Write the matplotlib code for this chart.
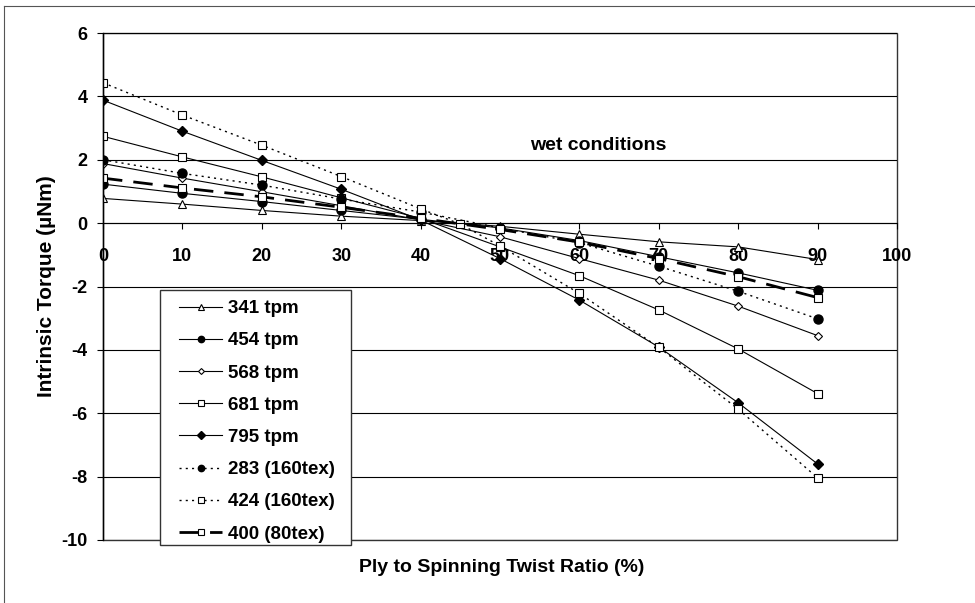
import numpy as np
import matplotlib.pyplot as plt
from matplotlib.lines import Line2D
from matplotlib.patches import Rectangle

plt.rcParams['font.family'] = ['Liberation Sans', 'DejaVu Sans']
plt.rcParams['font.weight'] = 'bold'
plt.rcParams['axes.unicode_minus'] = False

# ply to spinning twist ratio (%)
ratio = [0, 10, 20, 30, 40, 50, 60, 70, 80, 90]
ratio_424 = [0, 10, 20, 30, 40, 45, 50, 60, 70, 80, 90]

# intrinsic torque (uNm), wet conditions
t341 = [0.78, 0.6, 0.40, 0.22, 0.08, -0.1, -0.35, -0.59, -0.75, -1.15]
t454 = [1.23, 0.94, 0.68, 0.40, 0.12, -0.15, -0.55, -1.06, -1.57, -2.12]
t568 = [1.88, 1.42, 0.99, 0.55, 0.10, -0.43, -1.12, -1.80, -2.62, -3.55]
t681 = [2.74, 2.09, 1.46, 0.80, 0.15, -0.75, -1.66, -2.74, -3.97, -5.38]
t795 = [3.88, 2.90, 1.98, 1.07, 0.10, -1.12, -2.43, -3.91, -5.67, -7.60]
t283 = [2.00, 1.57, 1.20, 0.76, 0.35, -0.15, -0.62, -1.36, -2.15, -3.02]
t424 = [4.43, 3.41, 2.46, 1.47, 0.45, -0.03, -0.72, -2.22, -3.92, -5.87, -8.04]
t400 = [1.42, 1.11, 0.83, 0.50, 0.15, -0.20, -0.60, -1.12, -1.69, -2.35]

fig = plt.figure(figsize=(9.75, 6.03), dpi=100)
ax = fig.add_axes([103 / 975, 1 - 540 / 603, 794 / 975, 507 / 603])

thin = 0.8
sq = 6.0
ax.plot(ratio, t341, '-', color='black', lw=thin, marker='^', ms=6,
        mfc='white', mec='black', mew=0.8, label='341 tpm')
ax.plot(ratio, t454, '-', color='black', lw=thin, marker='o', ms=6.5,
        mfc='black', mec='black', label='454 tpm')
ax.plot(ratio, t568, '-', color='black', lw=thin, marker='D', ms=4.3,
        mfc='white', mec='black', mew=0.8, label='568 tpm')
ax.plot(ratio, t681, '-', color='black', lw=thin, marker='s', ms=sq,
        mfc='white', mec='black', mew=0.8, label='681 tpm')
ax.plot(ratio, t795, '-', color='black', lw=thin, marker='D', ms=5.2,
        mfc='black', mec='black', label='795 tpm')
ax.plot(ratio, t283, linestyle=(0, (1.5, 3)), color='black', lw=1.0, marker='o', ms=6.5,
        mfc='black', mec='black', label='283 (160tex)')
ax.plot(ratio_424, t424, linestyle=(0, (1.5, 3)), color='black', lw=1.0, marker='s', ms=sq,
        mfc='white', mec='black', mew=0.8, label='424 (160tex)')
ax.plot(ratio, t400, linestyle=(0, (7, 4)), color='black', lw=2.0, marker='s', ms=sq,
        mfc='white', mec='black', mew=0.8, label='400 (80tex)')

ax.set_xlim(0, 100)
ax.set_ylim(-10, 6)
ax.set_xticks(np.arange(0, 101, 10))
ax.set_yticks(np.arange(-10, 7, 2))
ax.yaxis.grid(True, color='black', lw=0.8)
ax.set_axisbelow(True)

for s in ['top', 'right']:
    ax.spines[s].set_visible(False)
ax.spines['bottom'].set_position(('data', 0))
ax.spines['left'].set_linewidth(1.0)
ax.add_patch(Rectangle((0, 0), 1, 1, transform=ax.transAxes, fill=False,
                       ec='#333333', lw=1.0, clip_on=False, zorder=0.5))

ax.tick_params(axis='both', labelsize=13, direction='out', length=4, width=0.8)
ax.tick_params(axis='x', pad=14)
ax.tick_params(axis='y', pad=7)
for lab in ax.get_xticklabels() + ax.get_yticklabels():
    lab.set_fontweight('bold')

ax.text(62.4, 2.45, 'wet conditions', ha='center', va='center', fontsize=14,
        fontweight='bold')

fig.text(47 / 975, 1 - 286 / 603, 'Intrinsic Torque (µNm)', rotation=90,
         ha='center', va='center', fontsize=15, fontweight='bold')
fig.text(502 / 975, 1 - 567 / 603, 'Ply to Spinning Twist Ratio (%)',
         ha='center', va='center', fontsize=14, fontweight='bold')

# legend box drawn separately so its size can match the reference
fig.add_artist(Rectangle((160 / 975, 1 - 545 / 603), 191 / 975, 255 / 603,
                         transform=fig.transFigure, fc='white', ec='#333333',
                         lw=1.0, zorder=4))
leg = fig.legend(loc='upper left', bbox_to_anchor=(179 / 975, 1 - 300 / 603),
                 fontsize=13.5, frameon=False, handlelength=2.3, handletextpad=0.3,
                 labelspacing=0.805, borderpad=0, markerscale=0.7,
                 borderaxespad=0)
leg.set_zorder(5)
for t in leg.get_texts():
    t.set_fontweight('bold')

# outer chart border (left and top edges visible)
fig.add_artist(Line2D([4 / 975, 4 / 975], [0, 1 - 6 / 603], color='#555555', lw=0.8))
fig.add_artist(Line2D([4 / 975, 1], [1 - 6 / 603, 1 - 6 / 603], color='#555555', lw=0.8))

fig.savefig('out.png', dpi=100)
